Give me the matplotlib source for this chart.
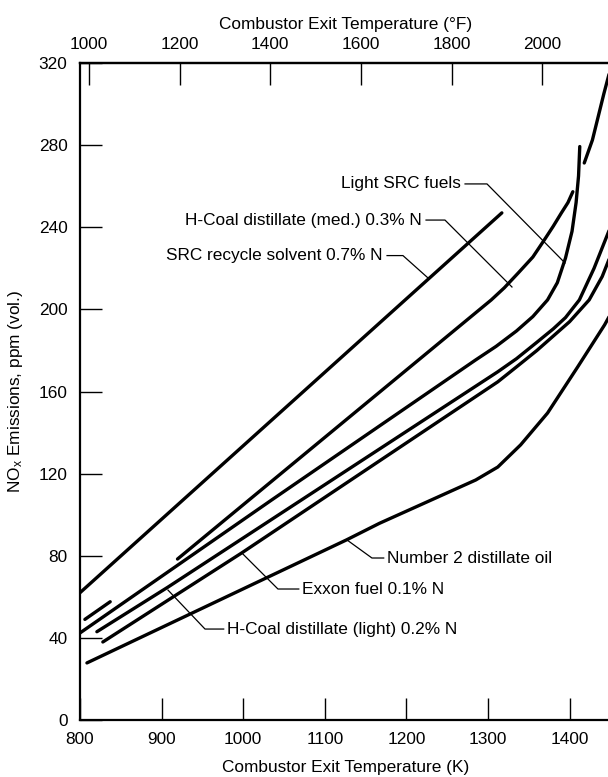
import matplotlib.pyplot as plt

plt.rcParams['font.family'] = ['Liberation Sans', 'DejaVu Sans']
plt.rcParams['mathtext.default'] = 'regular'

# curves: temperature (K) and NOx (ppm)
src_recycle_K = [800, 1317]
src_recycle_ppm = [62, 247]

hcoal_med_K = [919.5, 1304, 1320, 1337, 1355, 1369, 1380, 1390, 1398, 1404]
hcoal_med_ppm = [78.4, 204.6, 210.5, 217.7, 225.5, 233.8, 240.5, 247, 252, 257.3]

light_src_K = [800, 1035, 1285, 1310, 1335, 1355, 1373, 1385, 1395, 1403, 1408, 1411, 1412.5]
light_src_ppm = [42.4, 107.2, 175.4, 182, 189.5, 196.5, 204.6, 213, 225, 238, 252, 265, 279.3]

light_src_low_K = [806, 837]
light_src_low_ppm = [49, 57.6]

light_src_high_K = [1418, 1428, 1442, 1452]
light_src_high_ppm = [271.3, 282.5, 305, 320]

hcoal_light_K = [820.7, 907.7, 1312, 1335, 1360, 1380, 1395, 1412, 1430, 1452]
hcoal_light_ppm = [43, 64.7, 169.6, 176, 184, 190.5, 196, 204.6, 220, 242]

exxon_K = [828, 997.9, 1312, 1335, 1360, 1380, 1400, 1424, 1440, 1452]
exxon_ppm = [38, 81.3, 164.7, 172, 180, 187, 194, 204.6, 216, 228]

no2_oil_K = [808.5, 1126.5, 1167, 1285, 1312, 1340, 1373, 1410, 1443, 1452]
no2_oil_ppm = [27.8, 87.7, 95.8, 116.9, 123.2, 134, 149.5, 172, 192.5, 199]

curves = [
    (src_recycle_K, src_recycle_ppm),
    (hcoal_med_K, hcoal_med_ppm),
    (light_src_K, light_src_ppm),
    (light_src_low_K, light_src_low_ppm),
    (light_src_high_K, light_src_high_ppm),
    (hcoal_light_K, hcoal_light_ppm),
    (exxon_K, exxon_ppm),
    (no2_oil_K, no2_oil_ppm),
]

# label text, text anchor, leader corner, leader end (data coords), side
labels = [
    ("Light SRC fuels", (1266.9, 261.1), (1298.8, 261.1), (1394.4, 222.6), 'right'),
    ("H-Coal distillate (med.) 0.3% N", (1219.1, 243.5), (1247.3, 243.5), (1329.4, 210.9), 'right'),
    ("SRC recycle solvent 0.7% N", (1171.3, 226.2), (1195.8, 226.2), (1226.5, 215.3), 'right'),
    ("Number 2 distillate oil", (1176.2, 78.9), (1157.8, 78.9), (1127.2, 87.7), 'left'),
    ("Exxon fuel 0.1% N", (1072.1, 63.8), (1042.6, 63.8), (998.5, 81.3), 'left'),
    ("H-Coal distillate (light) 0.2% N", (980.1, 44.3), (953.2, 44.3), (907.8, 63.3), 'left'),
]

fig = plt.figure(figsize=(6.08, 7.77), dpi=100)
ax = fig.add_axes([80 / 608, 57 / 777, 532 / 608, 657 / 777])

for k, p in curves:
    ax.plot(k, p, color='black', lw=2.4, solid_capstyle='round', solid_joinstyle='round')

for text, tpos, corner, end, side in labels:
    gap = 5 if side == 'right' else -4
    ax.plot([tpos[0] + gap, corner[0], end[0]], [tpos[1], corner[1], end[1]],
            color='black', lw=0.9)
    ax.text(tpos[0], tpos[1], text, ha=side, va='center', fontsize=12.4)

ax.set_xlim(800, 1452)
ax.set_ylim(0, 320)
ax.set_xticks(range(800, 1401, 100))
ax.set_yticks(range(0, 321, 40))
ax.tick_params(direction='in', length=15.5, width=1, labelsize=12.4, pad=9)
ax.spines['right'].set_visible(False)
for s in ['left', 'bottom', 'top']:
    ax.spines[s].set_linewidth(1.6)

ax.set_xlabel('Combustor Exit Temperature (K)', fontsize=12.4, labelpad=9)
ax.set_ylabel('NO$_x$ Emissions, ppm (vol.)', fontsize=12.4)
ax.yaxis.set_label_coords(-0.103, 0.5)

top = ax.secondary_xaxis('top', functions=(lambda k: k * 1.8 - 459.67,
                                            lambda f: (f + 459.67) / 1.8))
top.set_xticks(range(1000, 2001, 200))
top.tick_params(direction='in', length=15.5, width=1, labelsize=12.4, pad=8)
top.spines['top'].set_linewidth(1.6)
top.set_xlabel('Combustor Exit Temperature (°F)', fontsize=12.4, labelpad=6)

fig.savefig('out.png', dpi=100)
